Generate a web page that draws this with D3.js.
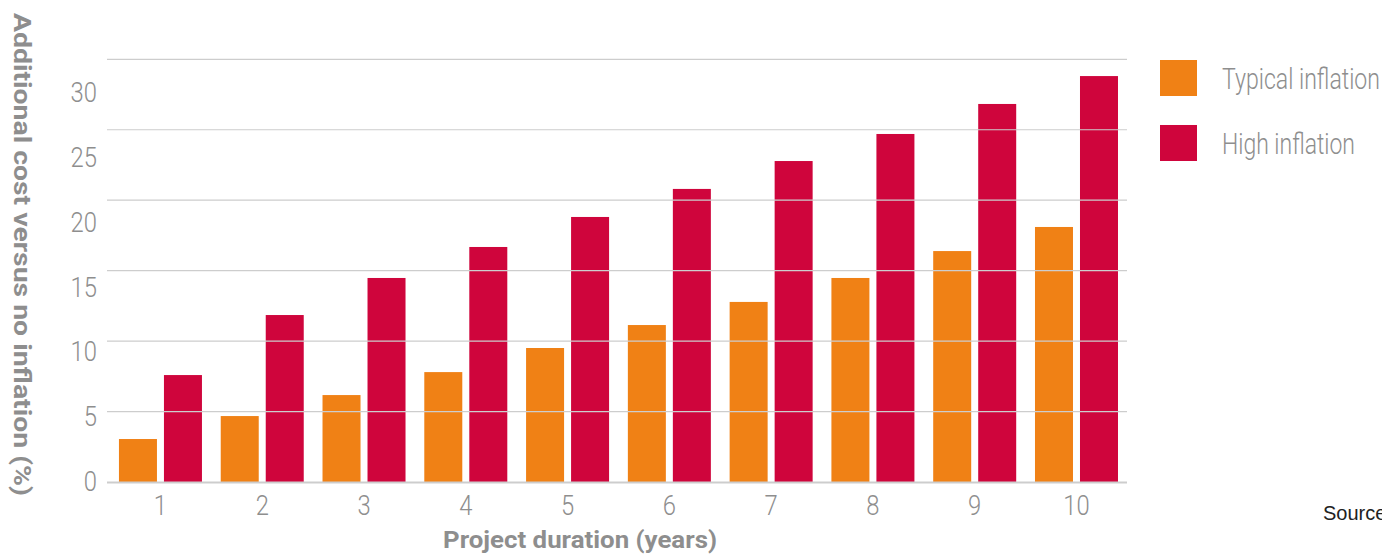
<!DOCTYPE html>
<html>
<head>
<meta charset="utf-8">
<script src="https://cdn.jsdelivr.net/npm/d3@7"></script>
<style>
  html, body { margin: 0; padding: 0; background: #fff; overflow: hidden; }
  svg { display: block; }
</style>
</head>
<body>
<svg id="chart" width="1382" height="555"></svg>
<script>
// ---- data ----
const categories = ["1", "2", "3", "4", "5", "6", "7", "8", "9", "10"];
const seriesNames = ["Typical inflation", "High inflation"];
const typicalValues = [3.05, 4.68, 6.17, 7.8, 9.51, 11.14, 12.78, 14.48, 16.39, 18.1];
const highValues = [7.59, 11.85, 14.48, 16.68, 18.81, 20.8, 22.78, 24.7, 26.83, 28.81];
const yTicks = [0, 5, 10, 15, 20, 25, 30];
const xTitle = "Project duration (years)";
const yTitle = "Additional cost versus no inflation (%)";
const sourceText = "Source";

const colors = ["#F08115", "#CF053C"];
const gray = "#8e8e8e";
const gridColor = "#cdcdcd";
const fontLight = "Roboto, 'Liberation Sans', sans-serif";

const svg = d3.select("#chart");

// scales
const x0 = d3.scaleBand().domain(categories).range([107, 1127])
  .paddingInner(0.1845).paddingOuter(0.103).align(0.57);
const x1 = d3.scaleBand().domain(seriesNames).range([0, x0.bandwidth()]).paddingInner(0.1556);
const y = d3.scaleLinear().domain([0, 30]).range([482, 59.3]);
// tick labels in the reference sit on a slightly different scale than the gridlines
const yLab = d3.scaleLinear().domain([0, 30]).range([491, 102]);
const color = d3.scaleOrdinal().domain(seriesNames).range(colors);

const table = categories.map((c, i) => ({ cat: c, vals: [
  { name: seriesNames[0], v: typicalValues[i] },
  { name: seriesNames[1], v: highValues[i] }
]}));

// bars
const groups = svg.append("g").selectAll("g").data(table).join("g")
  .attr("transform", d => `translate(${x0(d.cat)},0)`);
groups.selectAll("rect").data(d => d.vals).join("rect")
  .attr("x", d => x1(d.name))
  .attr("width", x1.bandwidth())
  .attr("y", d => y(d.v))
  .attr("height", d => y(0) - y(d.v))
  .attr("fill", d => color(d.name));

// gridlines (drawn over bars as in the reference)
const [gx0, gx1] = x0.range();
svg.append("g").selectAll("line").data(yTicks.filter(t => t > 0)).join("line")
  .attr("x1", gx0).attr("x2", gx1)
  .attr("y1", d => y(d)).attr("y2", d => y(d))
  .attr("stroke", gridColor).attr("stroke-width", 1.2);
svg.append("line")
  .attr("x1", gx0).attr("x2", gx1)
  .attr("y1", y(0) + 0.5).attr("y2", y(0) + 0.5)
  .attr("stroke", gridColor).attr("stroke-width", 2.2);

// y tick labels
svg.append("g").selectAll("text").data(yTicks).join("text")
  .attr("transform", d => `translate(97,${yLab(d)}) scale(0.85,1)`)
  .attr("text-anchor", "end")
  .attr("font-family", fontLight).attr("font-weight", 300)
  .attr("font-size", 28).attr("fill", gray)
  .text(d => d);

// x tick labels
svg.append("g").selectAll("text").data(categories).join("text")
  .attr("transform", d => `translate(${x0(d) + x0.bandwidth() / 2},515) scale(0.85,1)`)
  .attr("text-anchor", "middle")
  .attr("font-family", fontLight).attr("font-weight", 300)
  .attr("font-size", 28).attr("fill", gray)
  .text(d => d);

// axis titles
svg.append("text")
  .attr("x", 580).attr("y", 548)
  .attr("text-anchor", "middle")
  .attr("font-family", fontLight).attr("font-weight", 700)
  .attr("font-size", 23).attr("fill", gray)
  .attr("textLength", 274).attr("lengthAdjust", "spacingAndGlyphs")
  .text(xTitle);

svg.append("text")
  .attr("transform", "translate(13.5,254.5) rotate(90)")
  .attr("text-anchor", "middle")
  .attr("font-family", fontLight).attr("font-weight", 700)
  .attr("font-size", 23).attr("fill", gray)
  .attr("textLength", 483).attr("lengthAdjust", "spacingAndGlyphs")
  .text(yTitle);

// legend
const legendY = d3.scaleBand().domain(seriesNames).range([60, 161]).paddingInner(0.446).paddingOuter(0);
const legendWidths = [158, 133];
const lg = svg.append("g").selectAll("g").data(seriesNames).join("g")
  .attr("transform", d => `translate(1160,${legendY(d)})`);
lg.append("rect").attr("width", 37).attr("height", 36).attr("fill", d => color(d));
lg.append("text")
  .attr("x", 62).attr("y", 29)
  .attr("font-family", fontLight).attr("font-weight", 300)
  .attr("font-size", 29).attr("fill", gray)
  .attr("textLength", (d, i) => legendWidths[i]).attr("lengthAdjust", "spacingAndGlyphs")
  .text(d => d);

// source
svg.append("text")
  .attr("x", 1323).attr("y", 520)
  .attr("font-family", "'Liberation Sans', Arial, sans-serif")
  .attr("font-size", 20).attr("fill", "#222")
  .text(sourceText);
</script>
</body>
</html>
